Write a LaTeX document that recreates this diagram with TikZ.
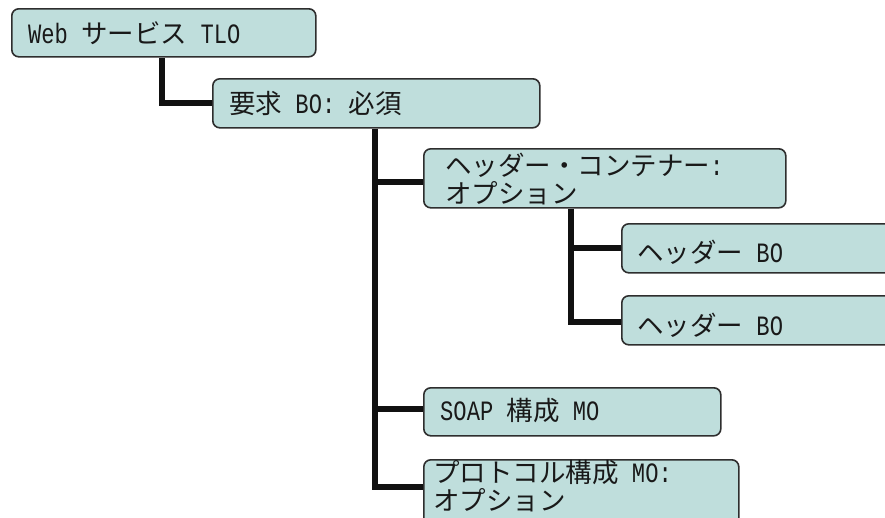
\documentclass[tikz,border=0pt]{standalone}
\usepackage{fontspec}
\setmainfont{Noto Sans CJK JP}
\newfontfamily\latmono[FakeStretch=0.79]{Liberation Mono}
\newcommand\lt[1]{{\latmono\fontsize{28}{28}\selectfont #1}}
\usetikzlibrary{backgrounds,calc}
\definecolor{boxfill}{HTML}{BFDEDC}
\definecolor{boxline}{HTML}{2E2E2E}
\definecolor{connline}{HTML}{111111}
\tikzset{
  box/.style={draw=boxline, fill=boxfill, line width=1.6pt, rounded corners=7pt, inner sep=0pt, anchor=north west},
  txt/.style={anchor=base west, inner sep=0pt, align=left, font=\fontsize{26.5}{28}\selectfont, text=black!90},
  conn/.style={draw=connline, line width=6pt, line join=miter, line cap=butt},
}
\begin{document}
\begin{tikzpicture}[x=1pt, y=-1pt]
\useasboundingbox (0,0) rectangle (885,517);
\clip (0,0) rectangle (885,517);
% boxes
\node[box, minimum width=304pt, minimum height=48pt] (b1) at (11,8) {};
\node[box, minimum width=327pt, minimum height=49pt] (b2) at (212,78) {};
\node[box, minimum width=362pt, minimum height=59pt] (b3) at (423,148) {};
\node[box, minimum width=290pt, minimum height=49pt] (b4) at (621,223) {};
\node[box, minimum width=290pt, minimum height=49pt] (b5) at (621,295) {};
\node[box, minimum width=297pt, minimum height=48pt] (b6) at (423,387) {};
\node[box, minimum width=315pt, minimum height=90pt] (b7) at (423,459) {};
% texts (base anchor = baseline of the last line)
\node[txt] (t1) at (28,43) {\lt{Web }サービス\lt{ TLO}};
\node[txt] (t2) at (229,113) {要求\lt{ BO: }必須};
\node[txt] (t3) at (445,203) {ヘッダー・コンテナー\lt{:}\\オプション};
\node[txt] (t4) at (637,262) {ヘッダー\lt{ BO}};
\node[txt] (t5) at (637,335) {ヘッダー\lt{ BO}};
\node[txt] (t6) at (440,420) {\lt{SOAP }構成\lt{ MO}};
\node[txt] (t7) at (433,510) {プロトコル構成\lt{ MO:}\\オプション};
% junction coordinates
\coordinate (j1) at (162,102.5);
\coordinate (k3) at (375,182);
\coordinate (k6) at (375,409);
\coordinate (k7) at (375,487);
\coordinate (m4) at (571,247.5);
\coordinate (m5) at (571,322);
\begin{scope}[on background layer]
\draw[conn] (b1.south -| j1) -- (j1) -- (b2.west |- j1);
\draw[conn] (b2.south -| k3) -- (k7) -- (b7.west |- k7);
\draw[conn] (k3) -- (b3.west |- k3);
\draw[conn] (k6) -- (b6.west |- k6);
\draw[conn] (b3.south -| m4) -- (m5) -- (b5.west |- m5);
\draw[conn] (m4) -- (b4.west |- m4);
\end{scope}
\end{tikzpicture}
\end{document}
